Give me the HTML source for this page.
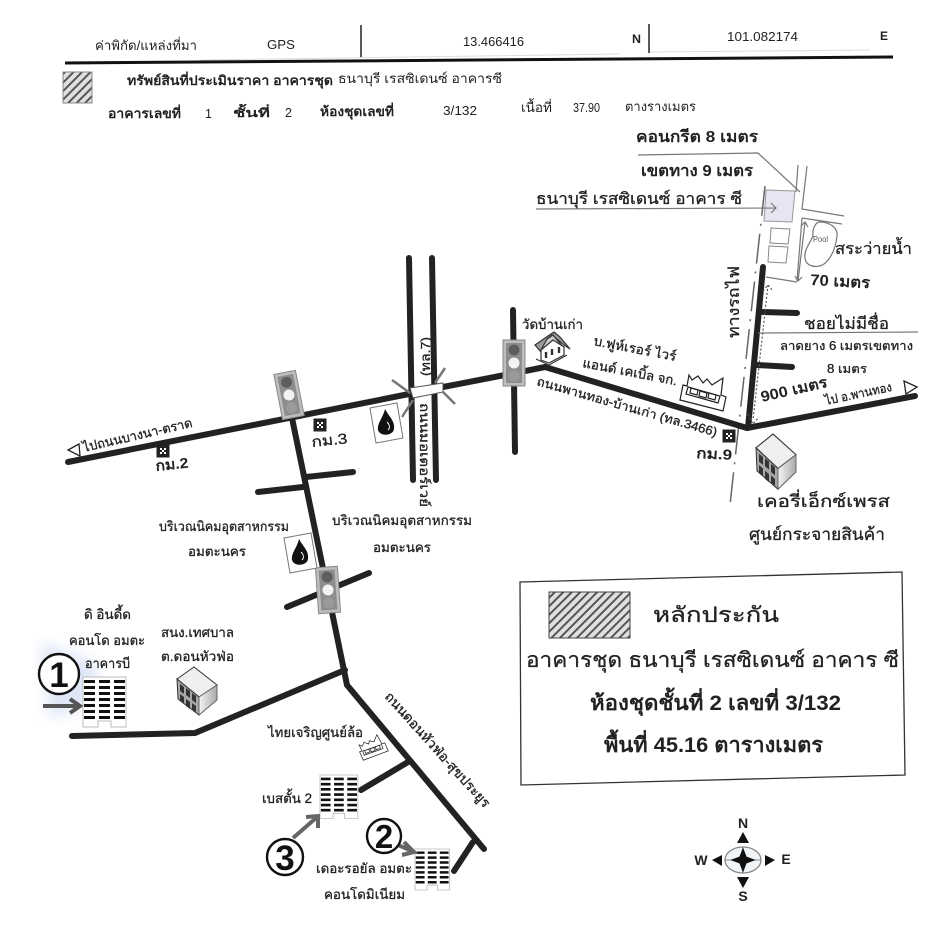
<!DOCTYPE html>
<html><head><meta charset="utf-8"><style>
html,body{margin:0;padding:0;background:#fff}
svg{display:block}
text{font-family:"Liberation Sans","Noto Sans CJK SC",sans-serif;fill:#222}
.b{font-weight:bold}
.m{stroke:#222;stroke-width:.3}
.r{fill:none;stroke:#222;stroke-width:6;stroke-linecap:round;stroke-linejoin:miter}
.t{fill:none;stroke:#777;stroke-width:1.2}
</style></head><body>
<svg width="950" height="927" viewBox="0 0 950 927" xmlns="http://www.w3.org/2000/svg">
<defs>
<pattern id="h" width="6" height="6" patternUnits="userSpaceOnUse" patternTransform="rotate(45)"><rect width="6" height="6" fill="#e0e0e0"/><rect width="2" height="6" fill="#555"/></pattern>
<filter id="bl"><feGaussianBlur stdDeviation="7"/></filter>
<linearGradient id="fc" x1="0" x2="1"><stop offset="0" stop-color="#f4f4f4"/><stop offset="1" stop-color="#aaa"/></linearGradient>
<g id="tl"><rect x="-11" y="-23" width="22" height="46" fill="#bdbdbd" stroke="#888"/><rect x="-8" y="-20" width="16" height="40" fill="#8d8d8d"/><circle cy="-13" r="5.5" fill="#5e5e5e"/><circle cy="0" r="5.5" fill="#f2f2f2"/><circle cy="13" r="5.5" fill="#9a9a9a"/></g>
<g id="tower"><path d="M0 0H43V50H28V44H15V50H0Z" fill="#fff" stroke="#bbb"/><g fill="#111"><path d="M1 3h11v3H1zM16 3h11v3H16zM31 3h11v3H31zM1 9h11v3H1zM16 9h11v3H16zM31 9h11v3H31zM1 15h11v3H1zM16 15h11v3H16zM31 15h11v3H31zM1 21h11v3H1zM16 21h11v3H16zM31 21h11v3H31zM1 27h11v3H1zM16 27h11v3H16zM31 27h11v3H31zM1 33h11v3H1zM16 33h11v3H16zM31 33h11v3H31zM1 39h11v3H1zM16 39h11v3H16zM31 39h11v3H31z"/></g></g>
<g id="office"><path d="M0 12 17 0 40 18 22 30Z" fill="#efefef" stroke="#333"/><path d="M0 12 22 30V48L1 32Z" fill="#a8a8a8" stroke="#333"/><path d="M22 30 40 18V33L22 48Z" fill="url(#fc)" stroke="#666"/><path d="M3 17l4 3v7l-4-3zM9 21l4 3v7l-4-3zM15 26l4 3v7l-4-3zM3 27l4 3v7l-4-3zM9 32l4 3v7l-4-3zM15 36l4 3v6l-4-3z" fill="#333"/></g>
<g id="fuel"><path d="M0 5 27 0 33 35 6 40Z" fill="#fff" stroke="#777"/><path d="M15 6C20 15 25 18 24 26 23 33 10 34 8 27 7 20 13 15 15 6Z" fill="#111"/><path d="M17 19c3 3 3 6 1 8" stroke="#fff" fill="none"/></g>
<g id="km"><rect x="-6.5" y="-6.5" width="13" height="13" fill="#222"/><path d="M-3-3h2v2h-2zM1-3h2v2H1zM-1-1h2v2h-2zM-3 1h2v2h-2zM1 1h2v2H1z" fill="#fff"/></g>
<g id="factory" fill="#fff" stroke="#222" stroke-width="1.2"><path d="M3 12 0 27 43 38 46 24 41 22 43 5 32 12 27 6 23 10 18 3 12 7 9 2 7 13Z"/><path d="M8 14 40 23 38 30 6 21Z"/><path d="M11 15l7 2-1 5-7-2zM20 18l7 2-1 5-7-2zM29 20l7 2-1 5-7-2z"/></g>
</defs>

<!-- header -->
<text x="95" y="50" font-size="13" textLength="102" lengthAdjust="spacingAndGlyphs">ค่าพิกัด/แหล่งที่มา</text>
<text x="267" y="49" font-size="13" textLength="28" lengthAdjust="spacingAndGlyphs">GPS</text>
<text x="463" y="46" font-size="12.5" textLength="61" lengthAdjust="spacingAndGlyphs">13.466416</text>
<text x="632" y="43" font-size="12" class="b" textLength="9" lengthAdjust="spacingAndGlyphs">N</text>
<text x="727" y="41" font-size="12.5" textLength="71" lengthAdjust="spacingAndGlyphs">101.082174</text>
<text x="880" y="40" font-size="12" class="b" textLength="8" lengthAdjust="spacingAndGlyphs">E</text>
<path d="M200 60 620 54M650 52 870 50" stroke="#ddd" fill="none"/>
<path d="M361 25V57M649 24V53" stroke="#222" stroke-width="1.5" fill="none"/>
<path d="M65 63 893 57" stroke="#111" stroke-width="3" fill="none"/>
<rect x="63" y="72" width="29" height="31" fill="url(#h)" stroke="#888"/>
<text x="127" y="85" font-size="13" class="b" textLength="206" lengthAdjust="spacingAndGlyphs">ทรัพย์สินที่ประเมินราคา อาคารชุด</text>
<text x="338" y="83" font-size="13" textLength="164" lengthAdjust="spacingAndGlyphs">ธนาบุรี เรสซิเดนซ์ อาคารซี</text>
<g font-size="13">
<text x="108" y="118" class="b" textLength="73" lengthAdjust="spacingAndGlyphs">อาคารเลขที่</text>
<text x="205" y="118" font-size="12.5">1</text>
<text x="233" y="117" class="b" textLength="37" lengthAdjust="spacingAndGlyphs" font-size="12">ชั้นที่</text>
<text x="285" y="117" font-size="12.5">2</text>
<text x="320" y="116" class="b" textLength="74" lengthAdjust="spacingAndGlyphs">ห้องชุดเลขที่</text>
<text x="443" y="115" font-size="12.5" textLength="34" lengthAdjust="spacingAndGlyphs">3/132</text>
<text x="521" y="112" textLength="31" lengthAdjust="spacingAndGlyphs">เนื้อที่</text>
<text x="573" y="112" font-size="12.5" textLength="27" lengthAdjust="spacingAndGlyphs">37.90</text>
<text x="625" y="111" textLength="71" lengthAdjust="spacingAndGlyphs">ตางรางเมตร</text>
</g>

<!-- smudge -->
<path d="M40 642 98 664 92 704 50 718Z" fill="#c3d0f0" opacity=".55" filter="url(#bl)"/>

<!-- railway -->
<path d="M765 186 730 505" stroke="#666" stroke-width="1.5" stroke-dasharray="30 8 2 8" fill="none"/>
<!-- roads -->
<path class="r" d="M409 258 413 480M432 258 436 480"/>
<path class="r" d="M513 310 515 452"/>
<path class="r" d="M68 462 409 394"/>
<path class="r" d="M443 387 505 375 545 367 747 428 915 396"/>
<path class="r" d="M763 267 748 428"/>
<path class="r" d="M763 312 797 313M757 365 792 367"/>
<path class="r" d="M292 418 347 685 484 849"/>
<path class="r" d="M345 670 195 733 72 736"/>
<path class="r" d="M258 492 303 487M306 477 353 472"/>
<path class="r" d="M287 607 369 573"/>
<path class="r" d="M408 762 361 790M473 842 454 871"/>
<!-- bridge -->
<path d="M410 388 443 383 443 392 413 398Z" fill="#fff" stroke="#555"/>
<path d="M392 380 410 393M445 368 435 383M443 392 455 404M413 400 402 417" stroke="#777" stroke-width="2.5" fill="none"/>
<!-- property site -->
<path d="M766 190 795 191 792 222 764 221Z" fill="#e6e6f3" stroke="#999"/>
<path d="M771 228 790 229 788 244 770 243ZM769 246 788 247 786 263 768 262Z" fill="#fff" stroke="#888"/>
<path class="t" d="M798 165 796 192M807 166 802 209 844 216M802 218 842 224M802 218 797 281M766 277 797 282"/>
<path class="t" d="M638 155 758 153 800 192M536 209 776 208M771 203 776 208 771 213M758 333 918 332"/>
<path class="t" d="M805 222 798 281M801 226 805 222 808 227M795 276 798 281 802 277"/>
<path class="t" d="M820 222C830 222 838 228 837 236 836 246 832 258 824 264 816 269 805 266 805 257 804 250 810 243 813 236 812 230 815 222 820 222Z"/>
<text x="813" y="242" font-size="8" style="fill:#555" textLength="15" lengthAdjust="spacingAndGlyphs">Pool</text>
<path d="M768 285 753 420M748 414 753 424 759 417M763 291 768 285 773 291" fill="none" stroke="#555" stroke-width="1.2" stroke-dasharray="2 2"/>

<!-- icons -->
<use href="#tl" transform="translate(514,363)"/>
<use href="#tl" transform="translate(289,395) rotate(-11)"/>
<use href="#tl" transform="translate(328,590) rotate(-4)"/>
<use href="#fuel" transform="translate(370,403)"/>
<use href="#fuel" transform="translate(284,533)"/>
<use href="#km" transform="translate(163,451)"/>
<use href="#km" transform="translate(320,425)"/>
<use href="#km" transform="translate(729,436)"/>
<use href="#factory" transform="translate(680,373)"/>
<use href="#factory" transform="translate(354,747) rotate(-35) scale(.6)"/>
<use href="#office" transform="translate(177,667)"/>
<use href="#office" transform="translate(756,434) scale(1,1.15)"/>
<use href="#tower" transform="translate(83,677)"/>
<use href="#tower" transform="translate(320,775) scale(.88,.87)"/>
<use href="#tower" transform="translate(415,849) scale(.8,.82)"/>
<!-- temple -->
<g stroke="#333" stroke-width="1.2">
<path d="M535 345 541 352 547 339 552 335 564 345 570 349 560 337 554 332 545 338Z" fill="#999"/>
<path d="M541 350 547 339 553 335 563 347 558 349Z" fill="#ccc"/>
<path d="M541 350V360L549 363 564 355V347L553 340Z" fill="#fff"/>
<path d="M546 352v6M552 349v6M559 347v6" stroke-width="2.4"/>
<path d="M536 359 549 365 567 355" fill="none"/>
</g>

<!-- circled numbers & arrows -->
<g fill="none" stroke="#666" stroke-width="4">
<path d="M43 706H76" stroke="#555"/><path d="M70 699 80 706 70 713" stroke="#555"/>
<path d="M398 845 412 851"/><path d="M404 842 414 852 402 855"/>
<path d="M293 838 316 818"/><path d="M306 817 318 816 318 828"/>
</g>
<g fill="#fff" stroke="#111" stroke-width="2.4"><circle cx="59" cy="674" r="20"/><circle cx="384" cy="836" r="17"/><circle cx="285" cy="857" r="18"/></g>
<g font-weight="bold" text-anchor="middle"><text x="59" y="687" font-size="35" style="fill:#111">1</text><text x="384" y="848" font-size="33" style="fill:#111">2</text><text x="285" y="870" font-size="35" style="fill:#111">3</text></g>

<!-- labels -->
<g font-size="14">
<text transform="translate(636,142)" font-size="16" class="b" textLength="122" lengthAdjust="spacingAndGlyphs">คอนกรีต 8 เมตร</text>
<text transform="translate(641,176)" font-size="16" class="b" textLength="112" lengthAdjust="spacingAndGlyphs">เขตทาง 9 เมตร</text>
<text transform="translate(536,204)" font-size="16" class="m" textLength="206" lengthAdjust="spacingAndGlyphs">ธนาบุรี เรสซิเดนซ์ อาคาร ซี</text>
<text transform="translate(835,254)" font-size="16" class="m" textLength="77" lengthAdjust="spacingAndGlyphs">สระว่ายน้ำ</text>
<text transform="translate(810,285) rotate(3)" font-size="15.5" class="b" textLength="60" lengthAdjust="spacingAndGlyphs">70 เมตร</text>
<text transform="translate(804,329)" font-size="16" class="m" textLength="85" lengthAdjust="spacingAndGlyphs">ชอยไม่มีชื่อ</text>
<text transform="translate(780,350)" font-size="12.5" class="m" textLength="133" lengthAdjust="spacingAndGlyphs">ลาดยาง 6 เมตรเขตทาง</text>
<text transform="translate(827,373)" font-size="12.5" class="m" textLength="40" lengthAdjust="spacingAndGlyphs">8 เมตร</text>
<text transform="translate(762,402) rotate(-13)" font-size="15" class="b" textLength="68" lengthAdjust="spacingAndGlyphs">900 เมตร</text>
<text transform="translate(826,405) rotate(-12)" font-size="12.5" class="m" textLength="68" lengthAdjust="spacingAndGlyphs">ไป อ.พานทอง</text>
<path d="M904 381 917 387 906 394Z" fill="#fff" stroke="#222" stroke-width="1.3"/>
<text transform="translate(739,338) rotate(-90)" font-size="16" class="m" textLength="72" lengthAdjust="spacingAndGlyphs">ทางรถไฟ</text>
<text transform="translate(522,329)" font-size="13.5" class="m" textLength="61" lengthAdjust="spacingAndGlyphs">วัดบ้านเก่า</text>
<text transform="translate(593,345) rotate(11)" font-size="13" class="m" textLength="84" lengthAdjust="spacingAndGlyphs">บ.ฟูห์เรอร์ ไวร์</text>
<text transform="translate(582,367) rotate(11)" font-size="13" class="m" textLength="96" lengthAdjust="spacingAndGlyphs">แอนด์ เคเบิ้ล จก.</text>
<text transform="translate(536,385) rotate(16)" font-size="12.5" class="m" textLength="187" lengthAdjust="spacingAndGlyphs">ถนนพานทอง-บ้านเก่า (ทล.3466)</text>
<text transform="translate(696,458) rotate(3)" font-size="14.5" class="b" textLength="36" lengthAdjust="spacingAndGlyphs">กม.9</text>
<text transform="translate(757,507)" font-size="17" class="m" textLength="133" lengthAdjust="spacingAndGlyphs">เคอรี่เอ็กซ์เพรส</text>
<text transform="translate(749,540)" font-size="17" class="m" textLength="136" lengthAdjust="spacingAndGlyphs">ศูนย์กระจายสินค้า</text>
<text transform="translate(84,452) rotate(-13)" font-size="13" class="m" textLength="112" lengthAdjust="spacingAndGlyphs">ไปถนนบางนา-ตราด</text>
<path d="M79 444 68 450 80 456Z" fill="#fff" stroke="#222" stroke-width="1.3"/>
<text transform="translate(156,471) rotate(-6)" font-size="14.5" class="b" textLength="33" lengthAdjust="spacingAndGlyphs">กม.2</text>
<text transform="translate(312,447) rotate(-6)" font-size="14.5" class="m" textLength="36" lengthAdjust="spacingAndGlyphs">กม.3</text>
<text transform="translate(430,376) rotate(-90)" font-size="13" class="m" textLength="39" lengthAdjust="spacingAndGlyphs">(ทล.7)</text>
<text transform="translate(420,403) rotate(90)" font-size="13" class="m" textLength="104" lengthAdjust="spacingAndGlyphs">ถนนมอเตอร์เวย์</text>
<text x="159" y="531" font-size="13.5" class="m" textLength="130" lengthAdjust="spacingAndGlyphs">บริเวณนิคมอุตสาหกรรม</text>
<text x="188" y="556" font-size="13.5" class="m" textLength="58" lengthAdjust="spacingAndGlyphs">อมตะนคร</text>
<text x="332" y="525" font-size="13.5" class="m" textLength="140" lengthAdjust="spacingAndGlyphs">บริเวณนิคมอุตสาหกรรม</text>
<text x="373" y="552" font-size="13.5" class="m" textLength="58" lengthAdjust="spacingAndGlyphs">อมตะนคร</text>
<text x="84" y="619" font-size="13.5" class="m" textLength="47" lengthAdjust="spacingAndGlyphs">ดิ อินดี้ด</text>
<text x="69" y="645" font-size="13.5" class="m" textLength="76" lengthAdjust="spacingAndGlyphs">คอนโด อมตะ</text>
<text x="85" y="668" font-size="13.5" class="m" textLength="45" lengthAdjust="spacingAndGlyphs">อาคารบี</text>
<text x="161" y="637" font-size="13.5" class="m" textLength="73" lengthAdjust="spacingAndGlyphs">สนง.เทศบาล</text>
<text x="161" y="661" font-size="13.5" class="m" textLength="73" lengthAdjust="spacingAndGlyphs">ต.ดอนหัวฟ่อ</text>
<text x="268" y="737" font-size="13.5" class="m" textLength="95" lengthAdjust="spacingAndGlyphs">ไทยเจริญศูนย์ล้อ</text>
<text transform="translate(384,697) rotate(48)" font-size="13.5" class="m" textLength="150" lengthAdjust="spacingAndGlyphs">ถนนดอนหัวฟ่อ-สุขประยูร</text>
<text x="262" y="803" font-size="13.5" class="m" textLength="50" lengthAdjust="spacingAndGlyphs">เบสตั้น 2</text>
<text x="316" y="873" font-size="13.5" class="m" textLength="96" lengthAdjust="spacingAndGlyphs">เดอะรอยัล อมตะ</text>
<text x="324" y="899" font-size="13.5" class="m" textLength="81" lengthAdjust="spacingAndGlyphs">คอนโดมิเนียม</text>
</g>

<!-- legend -->
<path d="M520 582 902 572 905 775 521 785Z" fill="#fff" stroke="#333" stroke-width="1.3"/>
<rect x="549" y="592" width="81" height="46" fill="url(#h)" stroke="#444"/>
<g font-size="21">
<text x="653" y="622" class="m" textLength="126" lengthAdjust="spacingAndGlyphs">หลักประกัน</text>
<text x="526" y="667" class="m" textLength="373" lengthAdjust="spacingAndGlyphs">อาคารชุด ธนาบุรี เรสซิเดนซ์ อาคาร ซี</text>
<text x="590" y="710" textLength="251" lengthAdjust="spacingAndGlyphs" font-weight="bold">ห้องชุดชั้นที่ 2 เลขที่ 3/132</text>
<text x="604" y="752" textLength="219" lengthAdjust="spacingAndGlyphs" font-weight="bold">พื้นที่ 45.16 ตารางเมตร</text>
</g>

<!-- compass -->
<ellipse cx="743" cy="860" rx="18" ry="13" fill="#f2f5f8" stroke="#888" stroke-width="1.3"/>
<path d="M743 847V873M725 860H761" stroke="#888"/>
<path d="M743 849 746 857 754 860 746 863 743 871 740 863 732 860 740 857Z" fill="#111" stroke="#111" stroke-width="1.2"/>
<path d="M743 832 749 843H737ZM743 888 749 877H737ZM712 860 722 855V866ZM775 860 765 855V866Z" fill="#111"/>
<g font-size="14" font-weight="bold" text-anchor="middle"><text x="743" y="828">N</text><text x="743" y="901">S</text><text x="701" y="865">W</text><text x="786" y="864">E</text></g>
</svg>
</body></html>
